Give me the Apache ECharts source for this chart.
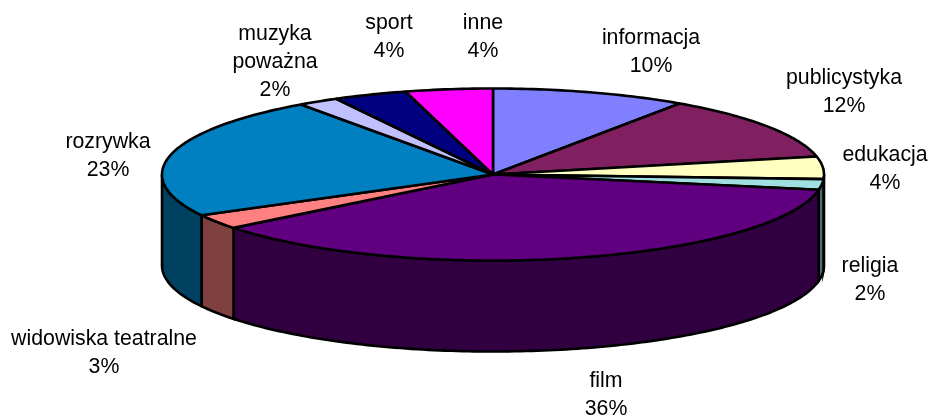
<!DOCTYPE html>
<html>
<head>
<meta charset="utf-8">
<title>Struktura programu</title>
<style>
  html, body { margin: 0; padding: 0; background: #fff; }
  #chart { width: 931px; height: 419px; }
</style>
<script src="https://cdn.jsdelivr.net/npm/echarts@6/dist/echarts.min.js"></script>
</head>
<body>
<div id="chart"></div>
<script>
var categories = ['informacja', 'publicystyka', 'edukacja', 'religia', 'film',
  'widowiska teatralne', 'rozrywka', 'muzyka\npoważna', 'sport', 'inne']
// shares estimated from the slices, the labels show them rounded
var values = [9.55, 12.1, 4.2, 2, 36.49, 2.8, 23, 2, 3.6, 4.26]
var colors = ['#8080FF', '#802060', '#FFFFC0', '#A0E0E0', '#600080',
  '#FF8080', '#0080C0', '#C0C0FF', '#000080', '#FF00FF']

// label centres in px, same order as categories
var labelCentres = [[651, 52], [844, 92], [885, 169], [870, 280], [606, 395],
  [104, 353], [108, 156], [275, 62], [389, 37], [483, 37]]

var DEPTH = 91 / 86 // wall height, in units of the vertical radius

var total = values.reduce(function (a, b) { return a + b }, 0)
var running = 0
var rows = values.map(function (v, i) {
  var row = [running, v, i]
  running += v
  return row
})

function rim(deg, drop) {
  var a = deg * Math.PI / 180
  return [Math.sin(a), Math.cos(a) - (drop || 0)]
}

// walls are the slice colour at half brightness
function shade(color) {
  var c = echarts.color.parse(color)
  return 'rgb(' + (c[0] >> 1) + ',' + (c[1] >> 1) + ',' + (c[2] >> 1) + ')'
}

function renderSlice(params, api) {
  var start = api.value(0) / total * 360
  var end = start + api.value(1) / total * 360
  var idx = api.value(2)
  var color = colors[idx]
  var children = []

  // side wall, only the part facing the viewer (90..270 deg)
  var wallFrom = Math.max(start, 90)
  var wallTo = Math.min(end, 270)
  if (wallTo > wallFrom) {
    var upper = []
    var lower = []
    for (var d = wallFrom; d < wallTo; d += 1) {
      upper.push(api.coord(rim(d)))
      lower.unshift(api.coord(rim(d, DEPTH)))
    }
    upper.push(api.coord(rim(wallTo)))
    lower.unshift(api.coord(rim(wallTo, DEPTH)))
    children.push({
      type: 'polygon',
      shape: { points: upper.concat(lower) },
      style: { fill: shade(color), stroke: '#000', lineWidth: 2.6 }
    })
  }

  // top face
  var top = [api.coord([0, 0])]
  for (var t = start; t < end; t += 1) {
    top.push(api.coord(rim(t)))
  }
  top.push(api.coord(rim(end)))
  children.push({
    type: 'polygon',
    shape: { points: top },
    style: { fill: color, stroke: '#000', lineWidth: 2.6, lineJoin: 'bevel' }
  })

  children.push({
    type: 'text',
    z2: 10,
    style: {
      x: labelCentres[idx][0],
      y: labelCentres[idx][1],
      text: categories[idx] + '\n' + Math.round(api.value(1)) + '%',
      fill: '#000',
      font: '21.3px "Liberation Sans", Arial, sans-serif',
      lineHeight: 28,
      align: 'center',
      verticalAlign: 'middle'
    }
  })
  return { type: 'group', children: children }
}

var chart = echarts.init(document.getElementById('chart'), null, { renderer: 'canvas' })
chart.setOption({
  animation: false,
  backgroundColor: '#fff',
  // the grid box is the bounding box of the top ellipse
  grid: { left: 162, width: 662, top: 88.5, height: 172 },
  xAxis: { type: 'value', min: -1, max: 1, show: false },
  yAxis: { type: 'value', min: -1, max: 1, show: false },
  series: [
    {
      type: 'custom',
      silent: true,
      clip: false,
      renderItem: renderSlice,
      encode: { x: 0, y: 1 },
      data: rows
    }
  ]
})
</script>
</body>
</html>
